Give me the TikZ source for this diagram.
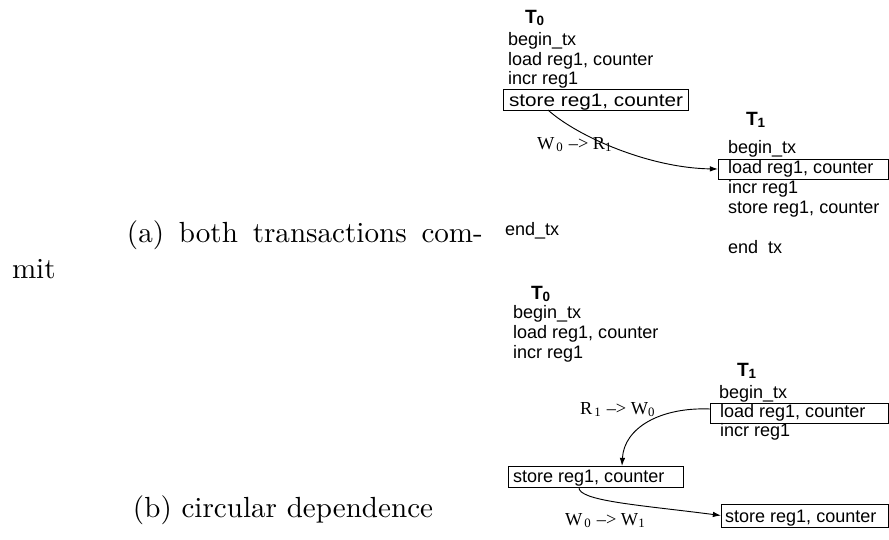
\documentclass[tikz,border=0pt]{standalone}
\usepackage{fontspec}
\newfontfamily\helv{Liberation Sans}
\newfontfamily\tms{Liberation Serif}
\usetikzlibrary{arrows.meta,calc}
\begin{document}
\begin{tikzpicture}[x=0.3436pt,y=-0.3436pt,
  txt/.style={anchor=base west,inner sep=0,outer sep=0,font=\helv\fontsize{6.2}{7.4}\selectfont},
  ttl/.style={anchor=base west,inner sep=0,outer sep=0,font=\helv\bfseries\fontsize{6.6}{7.4}\selectfont},
  lbl/.style={anchor=base west,inner sep=0,outer sep=0,font=\tms\fontsize{6.3}{7}\selectfont},
  captxt/.style={anchor=base west,inner sep=0,outer sep=0,font=\fontsize{10}{12}\selectfont},
  box/.style={draw,anchor=north west,inner sep=0,outer sep=0,line width=0.32pt},
  dep/.style={line width=0.32pt,-{Latex[length=2.8pt,width=1.9pt]}}]
\useasboundingbox (0,0) rectangle (889,540);

% ---------- (a) ----------
\node[ttl] (a0t) at (525,23) {T\textsubscript{0}};
\node[txt] (a0l1) at (508,45) {begin\_tx};
\node[txt] (a0l2) at (508,65) {load reg1, counter};
\node[txt] (a0l3) at (508,84) {incr reg1};
\node[box,minimum width=63.57pt,minimum height=7.22pt] (a0box) at (503,89) {};
\node[txt] (a0l4) at (509,106) {\scalebox{1.15}[1]{store reg1, counter}};
\node[txt] (a0l5) at (505,235) {end\_tx};

\node[ttl] (a1t) at (746,125) {T\textsubscript{1}};
\node[txt] (a1l1) at (728,153) {begin\_tx};
\node[box,minimum width=58.58pt,minimum height=6.87pt] (a1box) at (718,159) {};
\node[txt] (a1l2) at (728,173) {load reg1, counter};
\node[txt] (a1l3) at (728,193) {incr reg1};
\node[txt] (a1l4) at (728,213) {store reg1, counter};
\node[txt] (a1l5) at (728,253) {end\phantom{\_}tx};

\coordinate (a0out) at ($(a0box.south west)+(45,0)$);
\draw[dep] (a0out) .. controls (578,137) and (650,168) .. (a1box.west);
\node[lbl] (lab1) at (537,149) {W\textsubscript{\,0} \textendash{}> R\textsubscript{1}};

\node[captxt] (capa1) at (127,242) {\makebox[122.3pt][s]{(a) both transactions com-}};
\node[captxt] (capa2) at (12,278) {mit};

% ---------- (b) ----------
\node[ttl] (b0t) at (531,299) {T\textsubscript{0}};
\node[txt] (b0l1) at (513,318) {begin\_tx};
\node[txt] (b0l2) at (513,338) {load reg1, counter};
\node[txt] (b0l3) at (513,358) {incr reg1};

\node[ttl] (b1t) at (737,376) {T\textsubscript{1}};
\node[txt] (b1l1) at (719,398) {begin\_tx};
\node[box,minimum width=61.33pt,minimum height=6.87pt] (b1box) at (710,403) {};
\node[txt] (b1l2) at (720,417) {load reg1, counter};
\node[txt] (b1l3) at (720,436) {incr reg1};

\node[box,minimum width=60.13pt,minimum height=7.22pt] (b0box) at (508,466) {};
\node[txt] (b0l4) at (513,482) {store reg1, counter};

\node[box,minimum width=57.55pt,minimum height=7.90pt] (b1sbox) at (721,504) {};
\node[txt] (b1l4) at (725,522) {store reg1, counter};

\coordinate (b1out) at ($(b1box.south west)+(0,-14)$);
\coordinate (b0in) at ($(b0box.north west)+(114,0)$);
\draw[dep] (b1out) .. controls (660,407) and (624,428) .. (b0in);
\node[lbl] (lab2) at (580,414) {R\textsubscript{\,1} \textendash{}> W\textsubscript{0}};

\coordinate (b0out) at ($(b0box.south west)+(71,0)$);
\draw[dep] (b0out) .. controls (577,501) and (640,505) .. (b1sbox.west);
\node[lbl] (lab3) at (565,525) {W\textsubscript{\,0} \textendash{}> W\textsubscript{1}};

\node[captxt] (capb) at (133,517) {(b) circular dependence};
\end{tikzpicture}
\end{document}
